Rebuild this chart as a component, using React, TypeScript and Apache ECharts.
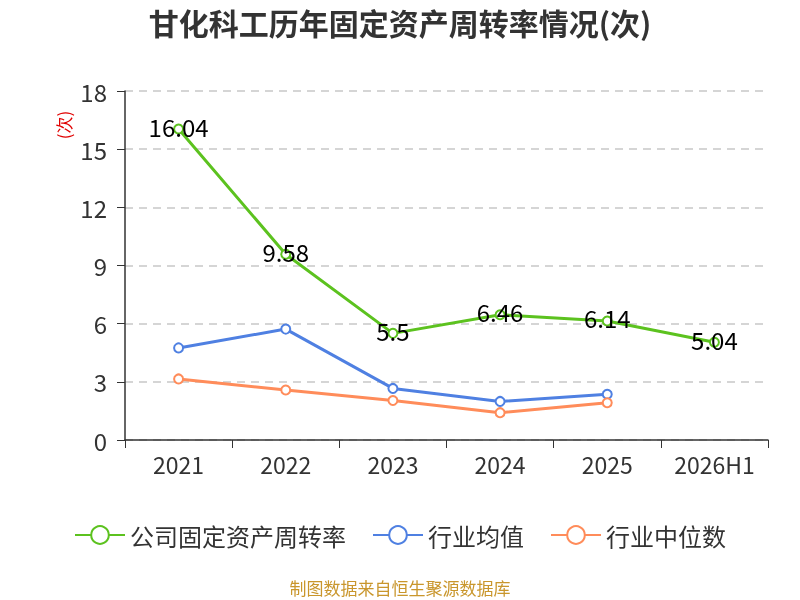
import React, { useEffect, useRef } from "react";
import * as echarts from "echarts";

const categories = ["2021", "2022", "2023", "2024", "2025", "2026H1"];
const companyValues = [16.04, 9.58, 5.5, 6.46, 6.14, 5.04];
const industryAvg = [4.75, 5.72, 2.66, 1.99, 2.36, null];
const industryMedian = [3.15, 2.58, 2.04, 1.41, 1.92, null];

const GREEN = "#5cc21f";
const BLUE = "#4f80e2";
const ORANGE = "#ff8c5a";

export default function App() {
  const ref = useRef<HTMLDivElement>(null);
  useEffect(() => {
    const chart = echarts.init(ref.current!, undefined, { renderer: "svg" });
    const font = "'Noto Sans CJK SC', 'Noto Sans', sans-serif";
    const mk = (name: string, data: any[], color: string, label: boolean) => ({
      name,
      type: "line",
      data,
      symbol: "emptyCircle",
      symbolSize: 9,
      lineStyle: { color, width: 3 },
      itemStyle: { color, borderWidth: 1.5 },
      label: label
        ? {
            show: true,
            position: "inside",
            offset: [0, -3],
            color: "#000",
            fontSize: 24,
            fontFamily: font,
          }
        : { show: false },
      z: label ? 3 : 2,
    });
    chart.setOption({
      animation: false,
      textStyle: { fontFamily: font },
      title: {
        text: "甘化科工历年固定资产周转率情况(次)",
        left: "center",
        top: 2,
        textStyle: { fontSize: 30, fontWeight: "bold", color: "#333", fontFamily: font },
      },
      grid: { left: 125, right: 32, top: 91, bottom: 160 },
      legend: {
        bottom: 48,
        left: "center",
        itemWidth: 50,
        itemHeight: 22,
        itemGap: 26,
        textStyle: { fontSize: 24, color: "#333", fontFamily: font },
        data: ["公司固定资产周转率", "行业均值", "行业中位数"],
      },
      xAxis: {
        type: "category",
        data: categories,
        axisLine: { lineStyle: { color: "#333", width: 1.5 } },
        axisTick: { show: true, alignWithLabel: false, length: 8, lineStyle: { color: "#333" } },
        axisLabel: { interval: 0, fontSize: 23, color: "#333", margin: 12, fontFamily: font },
      },
      yAxis: {
        type: "value",
        min: 0,
        max: 18,
        interval: 3,
        axisLine: { show: true, lineStyle: { color: "#333", width: 1.5 } },
        axisTick: { show: true, length: 8, lineStyle: { color: "#333" } },
        axisLabel: { fontSize: 24, color: "#333", margin: 18, fontFamily: font },
        splitLine: { lineStyle: { type: [8, 6], color: "#c8c8c8", width: 1.5 } },
      },
      graphic: [
        {
          type: "text",
          x: 63,
          y: 125,
          rotation: Math.PI / 2,
          style: {
            text: "(次)",
            fill: "#e00000",
            fontSize: 17,
            fontFamily: font,
            align: "center",
            verticalAlign: "middle",
          },
        },
        {
          type: "text",
          x: 400,
          y: 587,
          style: {
            text: "制图数据来自恒生聚源数据库",
            fill: "#c9962c",
            fontSize: 17,
            fontFamily: font,
            align: "center",
            verticalAlign: "middle",
          },
        },
      ],
      series: [
        mk("公司固定资产周转率", companyValues, GREEN, true),
        mk("行业均值", industryAvg, BLUE, false),
        mk("行业中位数", industryMedian, ORANGE, false),
      ],
    });
    return () => chart.dispose();
  }, []);
  return (
    <div
      ref={ref}
      style={{ position: "fixed", left: 0, top: 0, width: 800, height: 600 }}
    />
  );
}
